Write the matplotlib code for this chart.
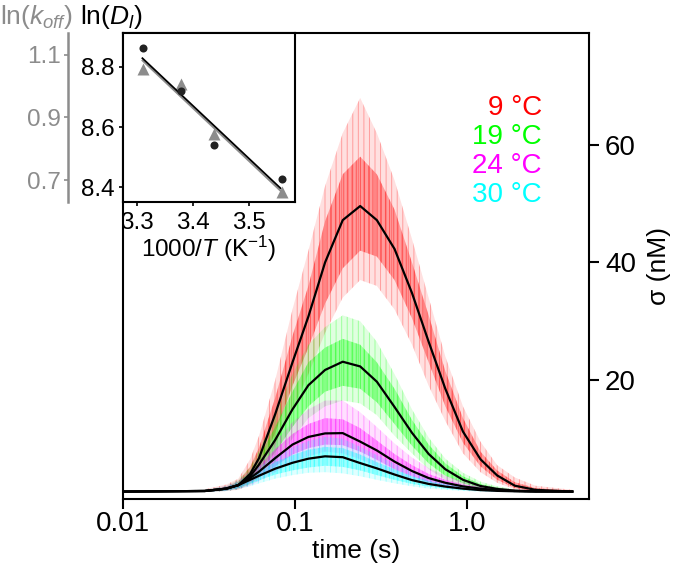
import numpy as np
import matplotlib
matplotlib.use('Agg')
import matplotlib.pyplot as plt

plt.rcParams['font.family'] = ['Liberation Sans', 'DejaVu Sans']
plt.rcParams['mathtext.fontset'] = 'custom'
plt.rcParams['mathtext.rm'] = 'Liberation Sans'
plt.rcParams['mathtext.it'] = 'Liberation Sans:italic'
plt.rcParams['hatch.linewidth'] = 0.7

# ---- main panel: sigma(t) at four temperatures ----
labels = ['9 \u00b0C', '19 \u00b0C', '24 \u00b0C', '30 \u00b0C']
colors = ['#ff0000', '#00ff00', '#ff00ff', '#00ffff']

# fitted curves (black)
t_fit = [0.01, 0.03, 0.04, 0.047, 0.055, 0.062, 0.077, 0.097, 0.12, 0.15, 0.19,
         0.24, 0.3, 0.38, 0.48, 0.6, 0.75, 0.95, 1.2, 1.5, 1.9, 2.5, 4.1]
fit_9 = [1.0, 1.1, 1.5, 2.1, 4.0, 6.7, 14.2, 23.0, 30.8, 40.0, 47.2,
         49.6, 47.2, 42.3, 34.8, 26.5, 18.5, 11.2, 6.5, 3.75, 2.0, 1.3, 1.0]
fit_19 = [1.0, 1.1, 1.5, 2.1, 3.6, 5.6, 9.8, 15.0, 19.1, 21.7, 23.1,
          22.3, 19.7, 15.4, 11.0, 7.4, 4.8, 3.0, 1.95, 1.45, 1.15, 1.05, 1.0]
fit_24 = [1.0, 1.1, 1.5, 2.1, 3.3, 4.4, 6.7, 9.0, 10.3, 10.9, 10.95,
          9.5, 8.0, 6.1, 4.5, 3.3, 2.5, 1.88, 1.5, 1.25, 1.1, 1.02, 1.0]
fit_30 = [1.0, 1.1, 1.5, 2.1, 3.0, 3.7, 4.9, 5.9, 6.6, 7.0, 6.85,
          5.85, 4.95, 3.9, 2.95, 2.3, 1.85, 1.5, 1.25, 1.12, 1.05, 1.0, 1.0]

# spread of the noisy measured traces (outer = sparse spikes, inner = dense part)
t_noise = [0.03, 0.04, 0.047, 0.055, 0.062, 0.077, 0.097, 0.12, 0.15, 0.19, 0.24,
           0.3, 0.38, 0.48, 0.6, 0.75, 0.95, 1.2, 1.5, 1.9, 2.5, 4.1]
out_lo_9 = [0.9, 1.1, 1.3, 2.3, 3.5, 9, 15, 21, 28, 34, 37, 36, 32, 26, 19, 13, 7.5, 4.3, 2.5, 1.4, 0.9, 0.8]
out_hi_9 = [1.4, 2.2, 3.2, 6.5, 10.5, 20, 32, 42, 53, 62, 68, 62, 54, 44, 34, 24, 15.5, 9.5, 5.5, 3.4, 2.0, 1.3]
in_lo_9 = [0.95, 1.2, 1.6, 3.0, 5.0, 11, 19, 25.5, 33, 39, 42, 41, 37, 30.5, 23, 15.5, 9.3, 5.3, 3.0, 1.6, 1.05, 0.9]
in_hi_9 = [1.2, 1.8, 2.7, 5.2, 8.5, 17, 27.5, 36, 47, 55, 58, 55, 49, 40, 31, 21.5, 13.5, 7.8, 4.6, 2.6, 1.6, 1.15]

out_lo_19 = [0.9, 1.1, 1.4, 2.2, 3.3, 6, 10, 13.5, 15.5, 16.5, 16, 14, 10.5, 7.5, 4.8, 3, 2, 1.4, 1.1, 0.9, 0.85, 0.85]
out_hi_19 = [1.3, 2.0, 3.0, 5.2, 8.0, 14, 21, 26, 29, 31, 30, 26.5, 21, 15, 10.2, 6.6, 4.2, 2.7, 1.9, 1.4, 1.2, 1.15]
in_lo_19 = [0.95, 1.2, 1.6, 2.7, 4.2, 7.7, 12, 15.5, 18, 19, 18.5, 16.2, 12.5, 8.8, 5.8, 3.7, 2.4, 1.6, 1.25, 1.0, 0.95, 0.92]
in_hi_19 = [1.15, 1.7, 2.6, 4.5, 6.9, 12, 18, 23, 25.5, 27, 26, 23, 18.5, 13.2, 9, 5.8, 3.6, 2.3, 1.7, 1.3, 1.12, 1.08]

out_lo_24 = [0.9, 1.1, 1.4, 2.0, 2.8, 4.3, 6, 7, 7.8, 7.5, 6.5, 5.3, 4, 3, 2.2, 1.7, 1.3, 1.1, 1.0, 0.9, 0.85, 0.85]
out_hi_24 = [1.3, 2.0, 2.9, 4.6, 6.3, 9.5, 12.8, 15, 16.5, 16.5, 14.5, 12, 9.2, 6.8, 5, 3.7, 2.7, 2.1, 1.7, 1.4, 1.25, 1.15]
in_lo_24 = [0.95, 1.2, 1.6, 2.5, 3.4, 5.3, 7.3, 8.4, 9, 8.9, 7.8, 6.4, 4.8, 3.6, 2.6, 2.0, 1.5, 1.25, 1.1, 1.0, 0.95, 0.92]
in_hi_24 = [1.15, 1.75, 2.5, 4.0, 5.4, 8.2, 10.8, 12.5, 13.5, 13.3, 11.8, 9.7, 7.4, 5.5, 4.0, 3.0, 2.2, 1.75, 1.45, 1.25, 1.1, 1.08]

out_lo_30 = [0.9, 1.1, 1.4, 1.9, 2.4, 3.2, 3.8, 4.2, 4.3, 4.1, 3.6, 3, 2.4, 1.9, 1.5, 1.3, 1.1, 1.0, 0.92, 0.9, 0.88, 0.88]
out_hi_30 = [1.3, 1.9, 2.8, 4.0, 5.2, 7, 8.5, 9.6, 10.3, 10, 8.6, 7.2, 5.7, 4.3, 3.3, 2.6, 2.0, 1.6, 1.35, 1.2, 1.12, 1.1]
in_lo_30 = [0.95, 1.2, 1.6, 2.3, 2.9, 3.9, 4.6, 5.1, 5.4, 5.2, 4.6, 3.8, 3.0, 2.3, 1.85, 1.5, 1.25, 1.1, 1.0, 0.95, 0.92, 0.92]
in_hi_30 = [1.15, 1.7, 2.5, 3.6, 4.5, 6.0, 7.2, 8.1, 8.6, 8.4, 7.3, 6.0, 4.8, 3.6, 2.8, 2.2, 1.75, 1.4, 1.25, 1.12, 1.06, 1.06]

# ---- inset: Arrhenius plot ----
inv_T = [3.311, 3.378, 3.437, 3.558]
ln_D = [8.864, 8.719, 8.542, 8.429]
ln_koff = [1.054, 1.007, 0.847, 0.661]
fit_x = [3.31, 3.555]
fit_lnD = [8.829, 8.397]
fit_lnk = [1.082, 0.666]

gray = '#8c8c8c'

fig = plt.figure(figsize=(6.75, 5.7), dpi=100)
ax = fig.add_axes([0.1818, 0.1246, 0.6908, 0.8175])
ax.set_zorder(0)

fits = [fit_9, fit_19, fit_24, fit_30]
bands = [(out_lo_9, out_hi_9, in_lo_9, in_hi_9),
         (out_lo_19, out_hi_19, in_lo_19, in_hi_19),
         (out_lo_24, out_hi_24, in_lo_24, in_hi_24),
         (out_lo_30, out_hi_30, in_lo_30, in_hi_30)]
for col, (olo, ohi, ilo, ihi) in zip(colors, bands):
    # sparse spikes: vertical hatch gives the streaky look of the raw trace
    ax.fill_between(t_noise, olo, ohi, facecolor=col, alpha=0.12, lw=0)
    ax.fill_between(t_noise, olo, ohi, facecolor='none', edgecolor=col,
                    hatch='|||', lw=0, alpha=0.3)
    ax.fill_between(t_noise, ilo, ihi, facecolor=col, alpha=0.3, lw=0)
    ax.fill_between(t_noise, ilo, ihi, facecolor='none', edgecolor=col,
                    hatch='||||', lw=0, alpha=0.45)
for f in fits:
    ax.plot(t_fit, f, color='black', lw=1.6, solid_joinstyle='round')

ax.set_xscale('log')
ax.set_xlim(0.01, 5.13)
ax.set_ylim(-0.26, 79.05)
ax.set_xticks([0.01, 0.1, 1.0])
ax.set_xticklabels(['0.01', '0.1', '1.0'])
ax.xaxis.set_minor_locator(matplotlib.ticker.NullLocator())
ax.yaxis.tick_right()
ax.yaxis.set_label_position('right')
ax.set_yticks([20, 40, 60])
ax.tick_params(axis='both', labelsize=20, width=1.5, length=7, direction='out')
ax.tick_params(axis='x', pad=2)
ax.tick_params(axis='y', pad=4.5)
for s in ax.spines.values():
    s.set_linewidth(1.5)
ax.set_xlabel('time (s)', fontsize=19, labelpad=1)
ax.set_ylabel('\u03c3 (nM)', fontsize=19, labelpad=8)

ytxt = [0.839, 0.777, 0.715, 0.652]
for lab, col, yy in zip(labels, colors, ytxt):
    ax.text(0.899, yy, lab, color=col, fontsize=20, ha='right', va='center',
            transform=ax.transAxes)

# inset axes: ln(koff) (gray, twin) under ln(Dl) (black)
ins = fig.add_axes([0.1818, 0.6451, 0.2553, 0.2965])
ins.set_zorder(2)
ins.patch.set_visible(False)
ink = ins.twinx()
ink.set_zorder(1)
ink.patch.set_visible(True)
ink.patch.set_facecolor('white')

ink.plot(fit_x, fit_lnk, color=gray, lw=1.3)
ink.plot(inv_T, ln_koff, '^', color=gray, ms=8, mec='none')
ins.plot(fit_x, fit_lnD, color='black', lw=1.3)
ins.plot(inv_T, ln_D, 'o', color='#222222', ms=5.8, mec='none')

ins.set_xlim(3.275, 3.581)
ins.set_ylim(8.35, 8.912)
ink.set_ylim(0.629, 1.169)
ins.set_xticks([3.3, 3.4, 3.5])
ins.set_yticks([8.4, 8.6, 8.8])
ins.tick_params(labelsize=17.5, width=1.2, length=3, pad=3)
ins.tick_params(axis='x', pad=4)
for s in ins.spines.values():
    s.set_linewidth(1.5)
ins.set_xlabel('1000/$T$ (K$^{\\mathregular{-1}}$)', fontsize=17.5, labelpad=0)

ink.yaxis.set_ticks_position('left')
ink.yaxis.set_label_position('left')
ink.spines['left'].set_position(('axes', -0.319))
ink.spines['left'].set_visible(True)
ink.spines['left'].set_color(gray)
ink.spines['left'].set_linewidth(1.8)
for k in ['right', 'top', 'bottom']:
    ink.spines[k].set_visible(False)
ink.set_yticks([0.7, 0.9, 1.1])
ink.set_yticklabels(['0.7', '0.9', '1.1'])
ink.tick_params(axis='y', labelsize=17.5, colors=gray, width=1.2, length=3, pad=2)

fig.text(0.0, 1 - 17 / 570, 'ln($k_{off}$)', color=gray, fontsize=19,
         ha='left', va='center')
fig.text(80 / 675, 1 - 17 / 570, 'ln($D_l$)', color='black', fontsize=19,
         ha='left', va='center')

fig.savefig('out.png', dpi=100)
